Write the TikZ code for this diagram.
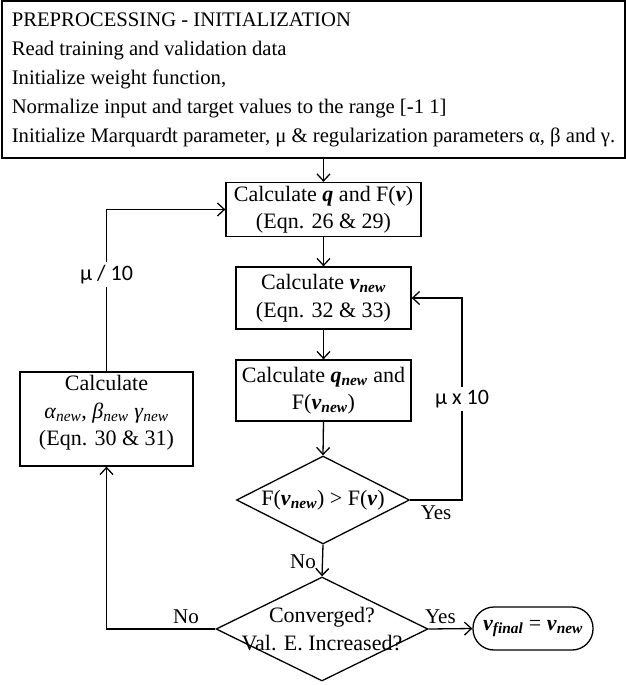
\documentclass[tikz,border=0pt]{standalone}
\usepackage{fontspec}
\setmainfont{Liberation Serif}
\newfontfamily\labelfont{Carlito}
\usetikzlibrary{arrows.meta,shapes.geometric}
% bold italic vector symbol and subscript helpers
\newcommand\bvec[1]{\textbf{\textit{#1}}}
\newcommand\lo[1]{\textsubscript{#1}}

\begin{document}
\begin{tikzpicture}[x=1pt,y=-1pt,line width=1.3pt,
  >={Straight Barb[length=7pt,width=13pt]},
  procbox/.style={draw,rectangle,inner sep=0pt,align=center,
    font=\fontsize{22}{27.5}\selectfont},
  decision/.style={draw,diamond,inner sep=0pt},
  dtext/.style={align=center,inner sep=0pt,font=\fontsize{22}{27.5}\selectfont},
  lbl/.style={inner sep=5pt,font=\fontsize{21}{24}\selectfont},
  mulabel/.style={fill=white,inner sep=3pt,font=\labelfont\fontsize{22}{24}\selectfont}]
\useasboundingbox (0,0) rectangle (626,685);

% initialisation block
\node[procbox,minimum width=623pt,minimum height=157pt,align=left,
  font=\fontsize{20.7}{29}\selectfont] (init) at (313.5,79.5)
  {PREPROCESSING - INITIALIZATION\\
   Read training and validation data\\
   Initialize weight function,\\
   Normalize input and target values to the range [-1 1]\\
   Initialize Marquardt parameter, μ \& regularization parameters α, β and γ.};

% main loop
\node[procbox,minimum width=195pt,minimum height=54pt] (calcq) at (323.5,209.5)
  {Calculate \bvec{q} and F(\bvec{v})\\(Eqn. 26 \& 29)};
\node[procbox,minimum width=175pt,minimum height=62pt] (calcv) at (323.5,298)
  {Calculate \bvec{v}\lo{\bvec{new}}\\(Eqn. 32 \& 33)};
\node[procbox,minimum width=175pt,minimum height=61pt] (calcqn) at (323.5,390.5)
  {Calculate \bvec{q}\lo{\bvec{new}} and\\F(\bvec{v}\lo{\bvec{new}})};

\node[decision,minimum width=173pt,minimum height=88pt] (cmp) at (323,500) {};
\node[dtext] (cmptext) at (cmp) {F(\bvec{v}\lo{\bvec{new}}) > F(\bvec{v})};

\node[decision,minimum width=212pt,minimum height=104pt] (conv) at (322,629) {};
\node[dtext] (convtext) at (conv) {Converged?\\Val. E. Increased?};

\node[procbox,minimum width=173pt,minimum height=94pt] (calcab) at (106.5,419) {};
\node[dtext] (calcabtext) at (106.5,413)
  {Calculate\\\textit{α}\lo{\textit{new}}, \textit{β}\lo{\textit{new}} \textit{γ}\lo{\textit{new}}\\(Eqn. 30 \& 31)};

\node[draw,rectangle,rounded corners=21pt,minimum width=120pt,minimum height=43pt,
  inner sep=0pt,font=\fontsize{22}{27}\selectfont] (final) at (533,628.5)
  {\bvec{v}\lo{\bvec{final}} = \bvec{v}\lo{\bvec{new}}};

% connectors
\coordinate (looprx) at (462,0);
\draw[->] (calcq.north |- init.south) -- (calcq.north);
\draw[->] (calcq) -- (calcv);
\draw[->] (calcv) -- (calcqn);
\draw[->] (calcqn.south) -- (cmp.north);
\draw[->] (cmp.south) -- node[lbl,left,pos=0.55,inner sep=6pt] {No} (conv.north);
\draw[->] (cmp.east) -- node[lbl,below,inner sep=5pt] {Yes} (cmp.east -| looprx)
  -- node[mulabel] {μ x 10} (calcv.east -| looprx) -- (calcv.east);
\draw[->] (conv.west) -- node[lbl,above,pos=0.27] {No} (conv.west -| calcab)
  -- (calcab.south);
\draw[->] (calcab.north) -- node[mulabel,pos=0.6] {μ / 10} (calcab.north |- calcq.west)
  -- (calcq.west);
\draw[->] (conv.east) -- node[lbl,above,pos=0.27] {Yes} (final.west);
\end{tikzpicture}
\end{document}
